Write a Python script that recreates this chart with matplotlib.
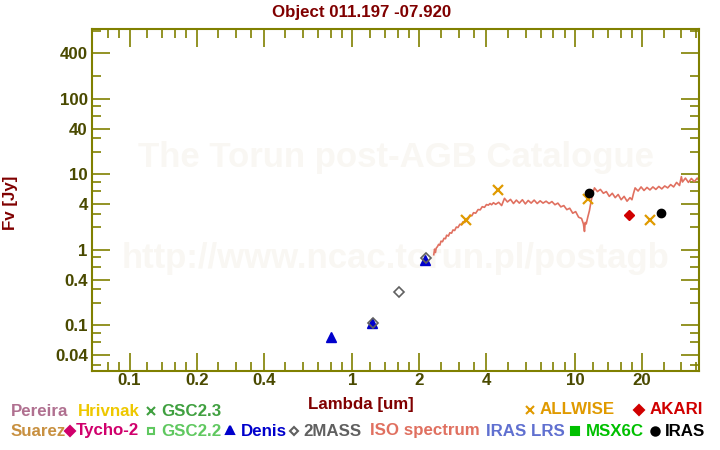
import matplotlib.pyplot as plt
import matplotlib.lines as mlines
from matplotlib.ticker import FixedLocator, FixedFormatter, NullFormatter

plt.rcParams["font.family"] = ["Liberation Sans", "DejaVu Sans"]
plt.rcParams["font.weight"] = "bold"

W, H = 720, 450

# ISO spectrum
iso_wave = [2.32, 2.34, 2.36, 2.38, 2.41, 2.44, 2.47, 2.50, 2.54, 2.58, 2.62,
            2.65, 2.70, 2.74, 2.79, 2.83, 2.88, 2.93, 2.98, 3.04, 3.09,
            3.14, 3.20, 3.25, 3.31, 3.37, 3.44, 3.50, 3.58, 3.67, 3.75,
            3.83, 3.92, 4.00, 4.08, 4.15, 4.22, 4.30,
            4.40, 4.54, 4.68, 4.82, 4.97, 5.13, 5.29, 5.45, 5.62, 5.80, 5.98,
            6.16, 6.35, 6.55, 6.76, 6.97, 7.18, 7.41, 7.64, 7.87, 8.12, 8.37,
            8.63, 8.90, 9.18, 9.46, 9.76, 10.06, 10.37, 10.69, 10.90, 11.02,
            11.10, 11.22, 11.40, 11.60, 11.80, 12.00, 12.22, 12.60, 12.99,
            13.40, 13.81, 14.24, 14.69, 15.14, 15.61, 16.10, 16.60, 17.11,
            17.64, 18.00, 18.30, 18.60, 19.18, 19.78, 20.39, 21.03, 21.68,
            22.35, 23.05, 23.76, 24.50, 25.26, 26.05, 26.86, 27.69, 28.55,
            29.44, 30.00, 30.35, 31.29, 32.27, 33.27, 34.30, 35.37, 36.0]
iso_flux = [0.86, 1.02, 0.92, 1.05, 1.10, 1.18, 1.15, 1.30, 1.28, 1.42, 1.40,
            1.56, 1.52, 1.68, 1.66, 1.83, 1.80, 2.00, 1.97, 2.18, 2.14,
            2.35, 2.30, 2.58, 2.55, 2.87, 2.82, 3.10, 3.05, 3.41, 3.38,
            3.72, 3.65, 3.97, 3.90, 4.10, 3.95, 4.20,
            4.0, 4.25, 3.85, 4.8, 4.3, 4.65, 4.1, 4.55, 4.15, 4.6, 4.05,
            4.5, 4.15, 4.55, 4.1, 4.45, 4.15, 4.4, 4.1, 4.35, 3.95, 4.15,
            3.7, 3.85, 3.4, 3.55, 3.05, 3.2, 2.7, 2.6, 2.2, 1.75,
            2.3, 2.2, 2.7, 3.3, 4.4, 5.6, 6.6, 5.9, 6.3,
            5.6, 5.9, 5.1, 5.6, 4.9, 5.4, 4.6, 5.1, 4.4,
            4.9, 4.6, 5.6, 6.6, 6.0, 6.8, 6.1, 6.7, 6.2,
            6.8, 6.3, 6.9, 6.4, 7.0, 6.6, 7.3, 6.8, 7.8,
            7.1, 9.3, 7.9, 8.9, 7.8, 8.8, 8.0, 8.9, 8.2]

denis_wave = [0.80, 1.22, 2.11]
denis_flux = [0.071, 0.106, 0.74]
mass_wave = [1.235, 1.62, 2.15]
mass_flux = [0.108, 0.273, 0.77]
wise_wave = [3.23, 4.49, 11.4, 21.6]
wise_flux = [2.46, 6.15, 4.67, 2.46]
akari_wave = [17.4]
akari_flux = [2.87]
iras_wave = [11.6, 24.2]
iras_flux = [5.6, 3.05]

x_major = [0.1, 0.2, 0.4, 1, 2, 4, 10, 20]
x_labels = ["0.1", "0.2", "0.4", "1", "2", "4", "10", "20"]
x_minor = [0.08, 0.09, 0.12, 0.14, 0.16, 0.18, 0.25, 0.3, 0.35, 0.5, 0.6,
           0.7, 0.8, 0.9, 1.2, 1.4, 1.6, 1.8, 2.5, 3, 3.5, 5, 6, 7, 8, 9,
           12, 14, 16, 18, 25, 30, 35]
y_major = [0.04, 0.1, 0.4, 1, 4, 10, 40, 100, 400]
y_labels = ["0.04", "0.1", "0.4", "1", "4", "10", "40", "100", "400"]
y_minor = [0.03, 0.06, 0.08, 0.2, 0.3, 0.6, 0.8, 2, 3, 6, 8, 20, 30, 60, 80,
           200, 800]

OLIVE = "#808000"
TICKTXT = "#4a4a00"
MAROON = "#800000"
FS = 12.2


def fx(px):
    return px / W


def fy(py):
    return 1 - py / H


fig = plt.figure(figsize=(7.2, 4.5), dpi=100)
ax = fig.add_axes([fx(92), fy(371), (699 - 92) / W, (371 - 29.3) / H])
ax.set_xscale("log")
ax.set_yscale("log")
ax.set_xlim(0.0678, 36)
ax.set_ylim(0.0248, 832)

# watermark
ax.text(0.5, 0.625, "The Torun post-AGB Catalogue", transform=ax.transAxes,
        ha="center", va="center", fontsize=25, color="#f9f7f3", zorder=0)
ax.text(0.5, 0.33, "http://www.ncac.torun.pl/postagb", transform=ax.transAxes,
        ha="center", va="center", fontsize=25, color="#f9f7f3", zorder=0)

ax.plot(iso_wave, iso_flux, color="#e07060", lw=1.2, zorder=2)
ax.plot(denis_wave, denis_flux, "^", color="#0000cc", ms=6.5, zorder=3)
ax.plot(mass_wave, mass_flux, "D", mfc="none", mec="#606060", ms=4.6,
        mew=1.2, zorder=4)
ax.plot(wise_wave, wise_flux, "x", color="#e09a00", ms=6.5, mew=1.6, zorder=4)
ax.plot(akari_wave, akari_flux, "D", color="#d00000", ms=5.5, zorder=4)
ax.plot(iras_wave, iras_flux, "o", color="black", ms=6, zorder=5)

ax.xaxis.set_major_locator(FixedLocator(x_major))
ax.xaxis.set_major_formatter(FixedFormatter(x_labels))
ax.xaxis.set_minor_locator(FixedLocator(x_minor))
ax.xaxis.set_minor_formatter(NullFormatter())
ax.yaxis.set_major_locator(FixedLocator(y_major))
ax.yaxis.set_major_formatter(FixedFormatter(y_labels))
ax.yaxis.set_minor_locator(FixedLocator(y_minor))
ax.yaxis.set_minor_formatter(NullFormatter())

ax.tick_params(which="both", direction="in", top=True, right=True,
               color=OLIVE, width=1.2, labelcolor=TICKTXT, labelsize=FS)
ax.tick_params(which="major", length=13)
ax.tick_params(which="minor", length=6.5)
ax.tick_params(axis="x", pad=1.5)
ax.tick_params(axis="y", pad=3)
for s in ax.spines.values():
    s.set_color(OLIVE)
    s.set_linewidth(1.5)

fig.text(fx(362), fy(12), "Object 011.197 -07.920", ha="center", va="center",
         fontsize=FS, color=MAROON)
fig.text(fx(361), fy(404), "Lambda [um]", ha="center", va="center",
         fontsize=FS, color=MAROON)
fig.text(fx(10), fy(203), "Fv [Jy]", ha="center", va="center", rotation=90,
         fontsize=FS, color=MAROON)

# legend, drawn by hand
legend_text = [
    ("Pereira", 11, 411, "#b07090"),
    ("Hrivnak", 78, 411, "#eec800"),
    ("GSC2.3", 161, 411, "#40a040"),
    ("ALLWISE", 540, 410, "#e09a00"),
    ("AKARI", 650, 410, "#d00000"),
    ("Suarez", 11, 431, "#c89040"),
    ("Tycho-2", 76, 431, "#d0006c"),
    ("GSC2.2", 161, 431, "#60c860"),
    ("Denis", 241, 431, "#0000cc"),
    ("2MASS", 303, 431, "#606060"),
    ("ISO spectrum", 370, 431, "#e07060"),
    ("IRAS LRS", 486, 431, "#6070d0"),
    ("MSX6C", 586, 431, "#00c000"),
    ("IRAS", 665, 431, "black"),
]
for name, px, py, c in legend_text:
    fig.text(fx(px), fy(py), name, ha="left", va="center", fontsize=FS,
             color=c)

legend_marks = [
    (151, 411, "x", "#40a040", True, 5.5),
    (530, 410, "x", "#e09a00", True, 6),
    (639, 410, "D", "#d00000", True, 5),
    (70, 431, "D", "#d0006c", True, 5),
    (151, 431, "s", "#60c860", False, 5),
    (230, 430, "^", "#0000cc", True, 6),
    (294, 431, "D", "#606060", False, 4.5),
    (575, 431, "s", "#00c000", True, 5.5),
    (655, 431, "o", "black", True, 6),
]
for px, py, m, c, filled, ms in legend_marks:
    fig.add_artist(mlines.Line2D([fx(px)], [fy(py)], marker=m, ms=ms,
                                 color=c, mfc=c if filled else "none",
                                 mec=c, mew=1.5, transform=fig.transFigure))

fig.savefig("out.png", dpi=100)
